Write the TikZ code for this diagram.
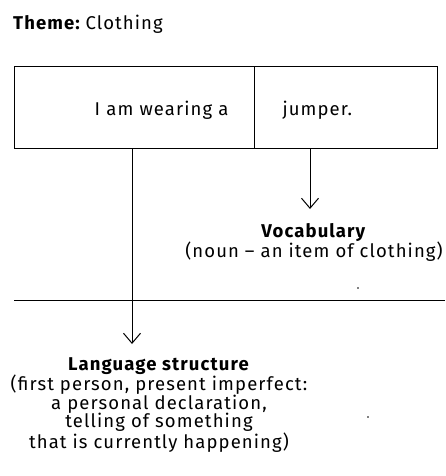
\documentclass[tikz,border=0pt]{standalone}
\usepackage{fontspec}
\setmainfont{Fira Sans}[LetterSpace=6]
\usetikzlibrary{arrows.meta}
\begin{document}
\begin{tikzpicture}[x=1pt,y=-1pt,
  every node/.style={inner sep=0pt},
  txt/.style={font=\fontsize{18.5}{18.5}\selectfont},
  cell/.style={draw,line width=1pt,minimum height=82pt,txt,
    text height=15pt,text depth=0pt},
  rule/.style={line width=1pt},
  arr/.style={line width=1pt,-{Straight Barb[length=10pt,width=17pt,line width=1pt]}},
  speck/.style={fill=black,circle,minimum size=1.6pt}]
\useasboundingbox (0,0) rectangle (445,476);

% heading
\node[txt,anchor=base west] (theme) at (13,29.5) {\textbf{Theme:}\kern-1.5pt\ Clothing};

% sentence split into two cells
\node[cell,anchor=north west,minimum width=240pt,text width=188pt,
      inner xsep=26pt,align=right] (lbox) at (14,66) {I am wearing a};
\node[cell,anchor=north west,minimum width=183pt,text width=127pt,
      inner xsep=28pt,align=left] (rbox) at (254,66) {jumper.};

% labels
\node[txt,anchor=north,align=center] (vocab) at (314,223)
  {\textbf{Vocabulary}\\(noun – an item of clothing)};
\node[txt,anchor=north,align=center] (lang) at (159,357)
  {\textbf{Language structure}\\(first person, present imperfect:\\a personal declaration,\\telling of something\\that is currently happening)};

% arrow ends
\coordinate (rtip) at (310,209);
\coordinate (ltip) at (132,344);
\draw[arr] (rtip |- rbox.south) -- (rtip);
\draw[arr] (ltip |- lbox.south) -- (ltip);

% dividing rule
\coordinate (rulel) at (14,300);
\coordinate (ruler) at (445,300);
\draw[rule] (rulel) -- (ruler);

% stray marks
\node[speck] (s1) at (358,288) {};
\node[speck] (s2) at (368,417) {};
\end{tikzpicture}
\end{document}
